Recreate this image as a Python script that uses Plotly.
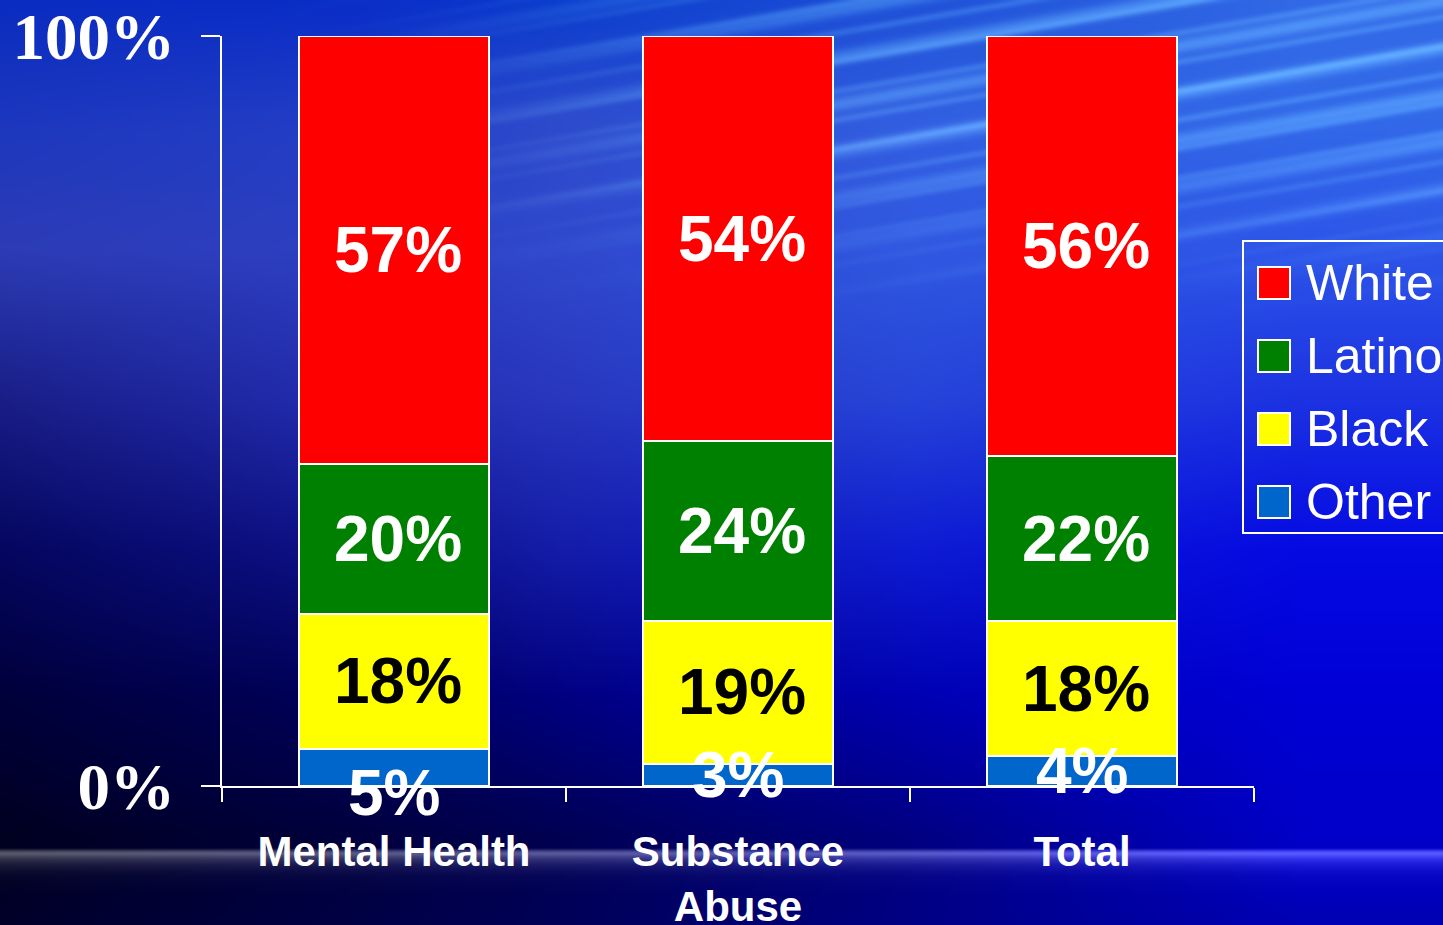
import base64
import struct
import zlib

import numpy as np
import plotly.graph_objects as go

# ---- data -------------------------------------------------------------
categories = ["Mental Health", "Substance<br>Abuse", "Total"]
other = [5, 3, 4]
black = [18, 19, 18]
latino = [20, 24, 22]
white = [57, 54, 56]

series_names = ["Other", "Black", "Latino", "White"]          # bottom -> top
series_values = [other, black, latino, white]
series_colors = ["#0066CC", "#FFFF00", "#008000", "#FF0000"]
label_colors = ["white", "black", "white", "white"]
legend_order = ["White", "Latino", "Black", "Other"]

y_tick_vals = [0, 100]
y_tick_text = ["0%", "100%"]

W, H = 1443, 925


# ---- slide background (gradient with light streaks and a glow band) ---
def make_background(scale=2):
    w, h = W // scale, H // scale
    px = (np.arange(w) + 0.5) * W / w
    py = (np.arange(h) + 0.5) * H / h

    gx = [0, 360, 560, 910, 1300, 1443]
    gy = [0, 120, 250, 400, 550, 700, 840, 925]
    grid = np.array([
        [(10, 44, 192), (10, 45, 200), (10, 60, 205), (30, 80, 215), (50, 105, 230), (50, 105, 230)],
        [(28, 55, 190), (35, 62, 198), (45, 75, 205), (50, 95, 225), (50, 105, 232), (50, 105, 232)],
        [(45, 60, 182), (45, 64, 195), (48, 72, 205), (48, 88, 225), (45, 85, 232), (45, 85, 232)],
        [(25, 30, 135), (35, 45, 178), (40, 55, 190), (38, 68, 216), (28, 50, 226), (28, 50, 226)],
        [(5, 6, 95), (14, 18, 138), (20, 28, 168), (14, 28, 210), (5, 10, 226), (5, 10, 226)],
        [(0, 0, 58), (0, 0, 92), (0, 0, 128), (0, 0, 178), (0, 0, 214), (0, 0, 214)],
        [(0, 0, 32), (0, 0, 62), (0, 0, 82), (0, 0, 128), (0, 0, 200), (0, 0, 200)],
        [(0, 0, 42), (0, 0, 70), (0, 0, 88), (0, 0, 132), (0, 0, 180), (0, 0, 180)],
    ], dtype=float)

    # interpolate down each grid column, then across each row
    cols = np.stack([np.stack([np.interp(py, gy, grid[:, j, c]) for c in range(3)], axis=-1)
                     for j in range(len(gx))], axis=1)          # (h, ncol, 3)
    img = np.empty((h, w, 3))
    for i in range(h):
        for c in range(3):
            img[i, :, c] = np.interp(px, gx, cols[i, :, c])

    X, Y = np.meshgrid(px, py)

    def smoothstep(a, b, t):
        t = np.clip((t - a) / (b - a), 0, 1)
        return t * t * (3 - 2 * t)

    # diagonal light streaks in the upper right
    phase = Y + 0.17 * X
    s = 0.6 * (0.5 + 0.5 * np.sin(2 * np.pi * phase / 47.0)) ** 4 \
        + 0.4 * (0.5 + 0.5 * np.sin(2 * np.pi * phase / 29.0 + 1.3)) ** 6
    mask = smoothstep(250, 950, X) * (1 - smoothstep(90, 330, Y))
    img += s[..., None] * mask[..., None] * np.array([48, 70, 30])

    # horizontal glow band near the bottom
    top = 853.0
    g = np.where(Y < top, np.clip((Y - (top - 5)) / 5, 0, 1), np.exp(-(Y - top) / 9.0))
    img += g[..., None] * np.array([100, 100, 80])

    return np.clip(img, 0, 255).astype(np.uint8)


def png_data_uri(rgb):
    h, w, _ = rgb.shape
    raw = rgb.astype(np.int16)
    up = raw.copy()
    up[1:] = (raw[1:] - raw[:-1]) % 256
    rows = np.concatenate([np.full((h, 1), 2, np.uint8),
                           up.astype(np.uint8).reshape(h, w * 3)], axis=1).tobytes()

    def chunk(tag, payload):
        return (struct.pack(">I", len(payload)) + tag + payload
                + struct.pack(">I", zlib.crc32(tag + payload) & 0xFFFFFFFF))

    ihdr = struct.pack(">IIBBBBB", w, h, 8, 2, 0, 0, 0)
    png = (b"\x89PNG\r\n\x1a\n" + chunk(b"IHDR", ihdr)
           + chunk(b"IDAT", zlib.compress(rows, 9)) + chunk(b"IEND", b""))
    return "data:image/png;base64," + base64.b64encode(png).decode()


# ---- figure -----------------------------------------------------------
fig = go.Figure()

for name, vals, color in zip(series_names, series_values, series_colors):
    fig.add_trace(go.Bar(
        x=categories, y=vals, name=name,
        marker=dict(color=color, line=dict(color="white", width=2)),
        showlegend=False, hoverinfo="skip",
    ))

# value labels centred in each segment
label_font = dict(family="Liberation Sans", size=64, weight="bold")
label_shift = {("Other", 0): -26}
annotations = []
base = [0, 0, 0]
for name, vals, lc in zip(series_names, series_values, label_colors):
    for i, v in enumerate(vals):
        annotations.append(dict(
            x=categories[i], y=base[i] + v / 2, xref="x", yref="y",
            text=f"{v}%", showarrow=False,
            font=dict(label_font, color=lc),
            xshift=4 if v >= 10 else 0,
            yshift=label_shift.get((name, i), 0),
        ))
        base[i] += v

# legend box drawn at slide scale
lx0, ly0, ly1 = 1243, 241, 533
shapes = [dict(type="rect", xref="paper", yref="paper",
               x0=lx0 / W, x1=1.02, y0=1 - ly1 / H, y1=1 - ly0 / H,
               line=dict(color="white", width=2), fillcolor="rgba(0,0,0,0)")]
color_of = dict(zip(series_names, series_colors))
for k, name in enumerate(legend_order):
    cy = 283 + k * 73
    shapes.append(dict(type="rect", xref="paper", yref="paper",
                       x0=1258 / W, x1=1290 / W,
                       y0=1 - (cy + 16) / H, y1=1 - (cy - 16) / H,
                       line=dict(color="white", width=2), fillcolor=color_of[name]))
    annotations.append(dict(
        x=1304 / W, y=1 - cy / H, xref="paper", yref="paper",
        xanchor="left", yanchor="middle", text=name, showarrow=False,
        font=dict(family="Liberation Sans", size=50, color="white"),
    ))

fig.update_layout(
    width=W, height=H,
    margin=dict(l=0, r=0, t=0, b=0, autoexpand=False),
    paper_bgcolor="#000040",
    plot_bgcolor="rgba(0,0,0,0)",
    barmode="stack",
    bargap=0.445,
    showlegend=False,
    annotations=annotations,
    shapes=shapes,
    images=[dict(source=png_data_uri(make_background()),
                 xref="paper", yref="paper", x=0, y=1, sizex=1, sizey=1,
                 xanchor="left", yanchor="top", sizing="stretch", layer="below")],
    xaxis=dict(
        domain=[222 / W, 1254 / W],
        range=[-0.5, 2.5],
        automargin=False,
        showline=True, linecolor="white", linewidth=2,
        ticks="outside", tickson="boundaries", ticklen=14,
        tickwidth=2, tickcolor="white",
        showgrid=False, zeroline=False,
        tickfont=dict(family="Liberation Sans", size=42, color="white", weight="bold"),
        ticklabelstandoff=28,
    ),
    yaxis=dict(
        domain=[1 - 786 / H, 1 - 36 / H],
        range=[0, 100],
        automargin=False,
        showline=True, linecolor="white", linewidth=2,
        ticks="outside", ticklen=19, tickwidth=2, tickcolor="white",
        tickvals=y_tick_vals, ticktext=y_tick_text,
        showgrid=True, gridcolor="white", gridwidth=2,
        zeroline=False,
        tickfont=dict(family="Liberation Serif", size=65, color="white", weight="bold"),
        ticklabelstandoff=13,
    ),
)

fig.write_html("out.html")
